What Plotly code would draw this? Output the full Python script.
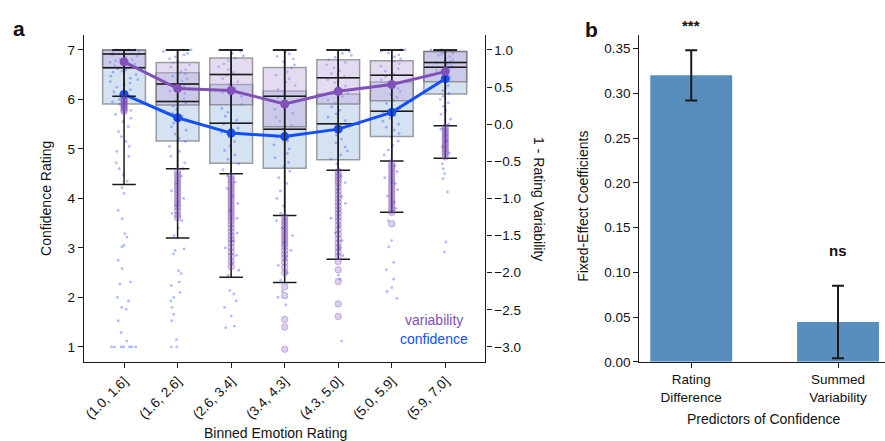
import plotly.graph_objects as go

FONT = "Liberation Sans, Arial, sans-serif"
W, H = 885, 450
# pixel rows below are measured on a 441-row canvas
VY = 441

# ---- panel a data -------------------------------------------------------
bins = ["(1.0, 1.6]", "(1.6, 2.6]", "(2.6, 3.4]", "(3.4, 4.3]",
        "(4.3, 5.0]", "(5.0, 5.9]", "(5.9, 7.0]"]

# confidence box statistics (left axis)
conf_q1 = [5.91, 5.16, 4.71, 4.61, 4.78, 5.25, 6.11]
conf_med = [6.64, 5.96, 5.52, 5.40, 5.51, 5.76, 6.65]
conf_q3 = [7.00, 6.54, 6.30, 6.17, 6.11, 6.35, 6.97]
conf_lo = [4.28, 3.20, 2.41, 2.30, 2.77, 3.72, 4.81]
conf_hi = [7.00, 7.00, 7.00, 7.00, 7.00, 7.00, 7.00]
conf_mean = [6.10, 5.63, 5.32, 5.25, 5.40, 5.74, 6.42]

# variability box statistics (right axis, 1 - rating variability)
var_q1 = [0.763, 0.26, 0.263, -0.033, 0.272, 0.317, 0.572]
var_med = [0.944, 0.54, 0.668, 0.376, 0.627, 0.658, 0.83]
var_q3 = [1.00, 0.83, 0.89, 0.763, 0.867, 0.853, 0.98]
var_lo = [0.376, -0.60, -0.667, -1.23, -0.62, -0.496, -0.02]
var_hi = [1.00, 1.00, 1.00, 1.00, 1.00, 1.00, 1.00]
var_mean = [0.84, 0.48, 0.454, 0.272, 0.444, 0.535, 0.708]

# individual confidence ratings per bin
conf_bin1 = [7.0, 7.0, 7.0, 6.98, 6.95, 6.92, 6.9, 6.88, 6.85, 6.82, 6.8, 6.78, 6.75,
             6.72, 6.7, 6.68, 6.65, 6.62, 6.6, 6.57, 6.55, 6.5, 6.47, 6.43, 6.4, 6.36,
             6.33, 6.3, 6.25, 6.2, 6.15, 6.1, 6.05, 6.0, 5.95, 5.9, 5.85, 5.78, 5.7,
             5.62, 5.55, 5.45, 5.35, 5.25, 5.15, 5.05, 4.95, 4.85, 4.72, 4.6, 4.48,
             4.35, 4.22, 4.1, 3.76, 3.59, 3.29, 3.22, 3.05, 3.02, 2.75, 2.58, 2.31,
             2.27, 2.0, 1.93, 1.8, 1.76, 1.53, 1.29, 1.12, 1.0, 1.0, 1.0, 1.0, 1.0,
             1.0, 1.0]
conf_bin2 = [7.0, 7.0, 6.97, 6.93, 6.9, 6.86, 6.82, 6.78, 6.74, 6.7, 6.65, 6.6, 6.56,
             6.52, 6.47, 6.42, 6.37, 6.32, 6.27, 6.22, 6.17, 6.12, 6.07, 6.02, 5.97,
             5.92, 5.86, 5.8, 5.73, 5.66, 5.6, 5.52, 5.45, 5.38, 5.3, 5.22, 5.15, 5.05,
             4.95, 4.85, 4.72, 4.6, 4.45, 4.3, 4.15, 4.0, 3.85, 3.7, 3.55, 3.4, 3.25,
             2.98, 2.95, 2.88, 2.54, 2.48, 2.31, 2.24, 2.1, 2.0, 1.93, 1.8, 1.66, 1.53,
             1.15, 1.0, 1.0]
conf_bin3 = [7.0, 6.97, 6.93, 6.88, 6.83, 6.78, 6.72, 6.66, 6.6, 6.54, 6.48, 6.42,
             6.36, 6.3, 6.22, 6.14, 6.06, 5.98, 5.9, 5.82, 5.74, 5.66, 5.58, 5.5, 5.42,
             5.33, 5.24, 5.15, 5.06, 4.97, 4.88, 4.79, 4.7, 4.58, 4.46, 4.33, 4.2,
             4.05, 3.9, 3.75, 3.6, 3.45, 3.3, 3.15, 3.0, 2.85, 2.7, 2.55, 2.45, 2.14,
             2.07, 1.93, 1.8, 1.63, 1.42, 1.39]
conf_bin4 = [7.0, 6.96, 6.92, 6.87, 6.82, 6.76, 6.7, 6.63, 6.56, 6.49, 6.42, 6.35,
             6.28, 6.2, 6.12, 6.04, 5.96, 5.88, 5.8, 5.72, 5.64, 5.56, 5.48, 5.4, 5.32,
             5.24, 5.16, 5.08, 5.0, 4.91, 4.82, 4.73, 4.64, 4.55, 4.42, 4.3, 4.15, 4.0,
             3.85, 3.7, 3.55, 3.4, 3.25, 3.1, 2.95, 2.8, 2.65, 2.5, 2.35, 2.12, 2.0,
             1.85]
conf_bin5 = [7.0, 6.97, 6.93, 6.89, 6.85, 6.8, 6.75, 6.7, 6.64, 6.58, 6.52, 6.46, 6.4,
             6.34, 6.27, 6.2, 6.13, 6.06, 5.99, 5.92, 5.85, 5.78, 5.71, 5.64, 5.57, 5.5,
             5.43, 5.36, 5.28, 5.2, 5.12, 5.04, 4.96, 4.88, 4.8, 4.7, 4.58, 4.45, 4.32,
             4.18, 4.04, 3.9, 3.75, 3.6, 3.45, 3.3, 3.15, 3.0, 2.85, 2.45, 2.37, 1.12]
conf_bin6 = [7.0, 7.0, 6.97, 6.94, 6.9, 6.86, 6.82, 6.77, 6.72, 6.67, 6.62, 6.57,
             6.52, 6.46, 6.4, 6.34, 6.28, 6.22, 6.16, 6.1, 6.04, 5.98, 5.92, 5.86, 5.8,
             5.74, 5.68, 5.62, 5.56, 5.5, 5.44, 5.38, 5.31, 5.24, 5.16, 5.07, 4.98,
             4.88, 4.78, 4.66, 4.54, 4.42, 4.3, 4.18, 4.05, 3.92, 3.8, 3.55, 3.15,
             3.02, 2.71, 2.56, 2.37, 2.2, 2.12, 1.98]
conf_bin7 = [7.0, 7.0, 7.0, 6.99, 6.97, 6.95, 6.93, 6.91, 6.89, 6.86, 6.83, 6.8, 6.77,
             6.74, 6.71, 6.68, 6.65, 6.62, 6.58, 6.54, 6.5, 6.46, 6.42, 6.38, 6.33,
             6.28, 6.23, 6.18, 6.12, 6.06, 6.0, 5.93, 5.86, 5.78, 5.7, 5.6, 5.5, 5.4,
             5.28, 5.16, 5.04, 4.92, 4.7, 4.6, 4.5, 4.4, 4.13, 3.12, 2.92]

# variability outliers per bin
var_flier1 = [0.35, 0.33, 0.31, 0.29, 0.27, 0.25, 0.23, 0.21, 0.19, 0.17]
var_flier2 = [-0.64, -0.68, -0.72, -0.76, -0.8, -0.84, -0.88, -0.92, -0.96, -1.0,
              -1.04, -1.08, -1.12, -1.17, -1.22, -1.26]
var_flier3 = [-0.7, -0.74, -0.78, -0.82, -0.86, -0.9, -0.94, -0.98, -1.02, -1.06,
              -1.1, -1.14, -1.18, -1.22, -1.26, -1.3, -1.35, -1.4, -1.45, -1.5, -1.55,
              -1.6, -1.66, -1.72, -1.78, -1.85, -1.92]
var_flier4 = [-1.25, -1.29, -1.33, -1.37, -1.41, -1.45, -1.49, -1.53, -1.57, -1.61,
              -1.65, -1.7, -1.75, -1.8, -1.86, -1.93, -2.0, -2.19, -2.31, -2.63,
              -2.73, -3.03]
var_flier5 = [-0.64, -0.68, -0.72, -0.76, -0.8, -0.85, -0.9, -0.95, -1.0, -1.05,
              -1.1, -1.15, -1.2, -1.25, -1.3, -1.36, -1.42, -1.48, -1.54, -1.6, -1.66,
              -1.72, -1.78, -1.85, -1.96, -2.12, -2.42, -2.59]
var_flier6 = [-0.52, -0.56, -0.6, -0.64, -0.68, -0.72, -0.76, -0.8, -0.84, -0.88,
              -0.92, -0.96, -1.0, -1.04, -1.08, -1.12, -1.16, -1.19, -1.34]
var_flier7 = [-0.04, -0.07, -0.1, -0.13, -0.16, -0.19, -0.22, -0.25, -0.28, -0.31,
              -0.34, -0.37, -0.4, -0.44]

# ---- panel b data -------------------------------------------------------
predictors = ["Rating<br>Difference", "Summed<br>Variability"]
coef = [0.320, 0.0446]
coef_err = [0.028, 0.0405]
signif = ["***", "ns"]

# ---- styles ---------------------------------------------------------------
BLUE = "#1450ff"
PURPLE = "#8150b8"
BAR = "#588ebd"
GRAY_EDGE = "rgba(110,110,110,0.65)"
INK = "#1a1a1a"
CONF_RANGE = [0.7, 7.3]
VAR_RANGE = [-3.2, 1.2]

conf_samples = [conf_bin1, conf_bin2, conf_bin3, conf_bin4, conf_bin5, conf_bin6, conf_bin7]
var_fliers = [var_flier1, var_flier2, var_flier3, var_flier4, var_flier5, var_flier6, var_flier7]


def fy(y):
    """pixel row -> paper fraction"""
    return 1 - y / VY


fig = go.Figure()

# layer 1 (y): confidence boxes and individual ratings
fig.add_trace(go.Box(
    x=bins, q1=conf_q1, median=conf_med, q3=conf_q3, lowerfence=conf_q1, upperfence=conf_q3,
    xaxis="x", yaxis="y", width=0.8, whiskerwidth=0, boxpoints=False,
    fillcolor="rgba(160,190,226,0.45)", line=dict(color=GRAY_EDGE, width=1.5),
    hoverinfo="skip", showlegend=False))
cx, cy = [], []
for b, vals in zip(bins, conf_samples):
    cx += [b] * len(vals)
    cy += vals
fig.add_trace(go.Box(
    x=cx, y=cy, xaxis="x", yaxis="y", width=0.8, boxpoints="all", jitter=0.7,
    pointpos=0, fillcolor="rgba(0,0,0,0)", line=dict(color="rgba(0,0,0,0)", width=0),
    marker=dict(size=2.8, color="rgba(60,95,255,0.42)"),
    hoverinfo="skip", showlegend=False))

# layer 2 (y2): variability boxes
fig.add_trace(go.Box(
    x=bins, q1=var_q1, median=var_med, q3=var_q3, lowerfence=var_q1, upperfence=var_q3,
    xaxis="x", yaxis="y2", width=0.8, whiskerwidth=0, boxpoints=False,
    fillcolor="rgba(190,170,222,0.42)", line=dict(color=GRAY_EDGE, width=1.5),
    hoverinfo="skip", showlegend=False))

# layer 3 (y3): confidence medians, whiskers and mean line
fig.add_trace(go.Box(
    x=bins, q1=conf_med, median=conf_med, q3=conf_med, lowerfence=conf_lo, upperfence=conf_hi,
    xaxis="x", yaxis="y3", width=0.8, whiskerwidth=0.55, boxpoints=False,
    fillcolor="rgba(0,0,0,0)", line=dict(color=INK, width=1.5),
    hoverinfo="skip", showlegend=False))
fig.add_trace(go.Scatter(
    x=bins, y=conf_mean, xaxis="x", yaxis="y3", mode="lines+markers",
    line=dict(color=BLUE, width=3), marker=dict(size=9, color=BLUE),
    hoverinfo="skip", showlegend=False))

# layer 4 (y4): variability medians, whiskers, outliers and mean line
fig.add_trace(go.Box(
    x=bins, q1=var_med, median=var_med, q3=var_med, lowerfence=var_lo, upperfence=var_hi,
    xaxis="x", yaxis="y4", width=0.8, whiskerwidth=0.55, boxpoints=False,
    fillcolor="rgba(0,0,0,0)", line=dict(color=INK, width=1.5),
    hoverinfo="skip", showlegend=False))
fx, fyv = [], []
for b, vals in zip(bins, var_fliers):
    fx += [b] * len(vals)
    fyv += vals
fig.add_trace(go.Scatter(
    x=fx, y=fyv, xaxis="x", yaxis="y4", mode="markers",
    marker=dict(size=6.5, color="rgba(128,80,185,0.28)",
                line=dict(color="rgba(128,80,185,0.35)", width=1)),
    hoverinfo="skip", showlegend=False))
fig.add_trace(go.Scatter(
    x=bins, y=var_mean, xaxis="x", yaxis="y4", mode="lines+markers",
    line=dict(color=PURPLE, width=3), marker=dict(size=9, color=PURPLE),
    hoverinfo="skip", showlegend=False))

# panel b bars
fig.add_trace(go.Bar(
    x=predictors, y=coef, xaxis="x2", yaxis="y5", width=0.558,
    marker=dict(color=BAR, line=dict(width=0)),
    error_y=dict(type="data", array=coef_err, visible=True, color=INK,
                 thickness=2, width=6),
    hoverinfo="skip", showlegend=False))

# ---- layout ---------------------------------------------------------------
y_dom = [fy(361), fy(35)]
tickfont = dict(family=FONT, size=13.5, color="#111")
common = dict(showgrid=False, zeroline=False, showline=True, linecolor=INK,
              linewidth=1.3, ticks="outside", ticklen=5, tickwidth=1.2,
              tickcolor=INK, tickfont=tickfont)
hidden = dict(visible=False, showgrid=False, zeroline=False)

fig.update_layout(
    width=W, height=H, margin=dict(l=0, r=0, t=0, b=0),
    paper_bgcolor="white", plot_bgcolor="rgba(0,0,0,0)",
    boxmode="overlay", font=dict(family=FONT, color="#111"),
    xaxis=dict(domain=[83 / W, 485 / W], anchor="y", type="category",
               categoryorder="array", categoryarray=bins, range=[-0.75, 6.75],
               tickangle=-45, **common),
    yaxis=dict(domain=y_dom, anchor="x", side="left", range=CONF_RANGE,
               tickvals=[1, 2, 3, 4, 5, 6, 7], **common),
    yaxis2=dict(anchor="x", overlaying="y", side="right", range=VAR_RANGE,
                tickvals=[1.0, 0.5, 0.0, -0.5, -1.0, -1.5, -2.0, -2.5, -3.0],
                tickformat=".1f", **common),
    yaxis3=dict(anchor="x", overlaying="y", range=CONF_RANGE, **hidden),
    yaxis4=dict(anchor="x", overlaying="y", range=VAR_RANGE, **hidden),
    xaxis2=dict(domain=[639 / W, 1.0], anchor="y5", range=[-0.354, 1.32], **common),
    yaxis5=dict(domain=y_dom, anchor="x2", range=[0, 0.365],
                tickvals=[0, 0.05, 0.10, 0.15, 0.20, 0.25, 0.30, 0.35],
                tickformat=".2f", **common),
)


def px_note(text, x, y, size=14, color="#111", angle=0, bold=False):
    fig.add_annotation(
        text=f"<b>{text}</b>" if bold else text, x=x / W, y=fy(y),
        xref="paper", yref="paper", showarrow=False, textangle=angle,
        xanchor="center", yanchor="middle",
        font=dict(family=FONT, size=size, color=color))


px_note("a", 18, 28, size=21, bold=True)
px_note("b", 591, 29, size=21, bold=True)
px_note("Confidence Rating", 45.5, 198, angle=-90)
px_note("1 - Rating Variability", 538, 199, angle=90)
px_note("Binned Emotion Rating", 275, 432)
px_note("Fixed-Effect Coefficients", 583, 206, angle=-90)
px_note("Predictors of Confidence", 764, 418)
px_note("variability", 433, 319, color=PURPLE)
px_note("confidence", 433, 338, color=BLUE)

# significance markers above each bar
fig.add_annotation(text=f"<b>{signif[0]}</b>", x=predictors[0], xref="x2",
                   y=fy(15), yref="paper", showarrow=False,
                   font=dict(family=FONT, size=15, color="#111"))
fig.add_annotation(text=f"<b>{signif[1]}</b>", x=predictors[1], xref="x2",
                   y=0.124, yref="y5", showarrow=False,
                   font=dict(family=FONT, size=15, color="#111"))

fig.write_html("out.html")
